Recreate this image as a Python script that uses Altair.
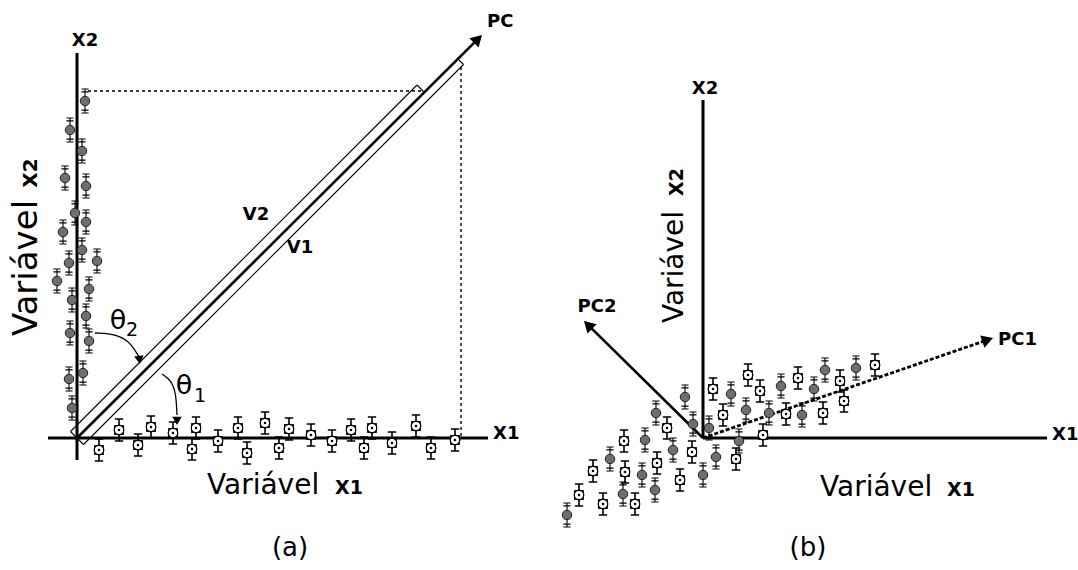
import math
import altair as alt
import pandas as pd

W, H = 1078, 570

# ---------------- data (image coordinates) ----------------
# panel (a): gray samples along x2, white samples along x1
gray_a_x = [85, 70, 82, 65, 86, 75, 86, 63, 82, 97, 69, 57, 89, 72, 86, 70, 89, 83, 69, 72]
gray_a_y = [101, 130, 151, 178, 186, 213, 222, 232, 250, 261, 263, 281, 289, 300, 316, 333, 341, 373, 379, 408]
white_a_x = [99, 119, 138, 151, 173, 192, 196, 218, 238, 247, 265, 279, 289, 311, 332, 351, 364, 372, 392, 416, 431, 455]
white_a_y = [450, 430, 445, 427, 433, 449, 428, 441, 428, 453, 423, 448, 429, 435, 441, 430, 448, 428, 443, 426, 448, 440]

# panel (b)
gray_b_x = [685, 656, 693, 709, 731, 746, 645, 673, 739, 610, 716, 642, 703, 623, 655, 567, 781, 769, 802, 814, 825, 856]
gray_b_y = [397, 413, 424, 428, 394, 410, 440, 450, 441, 459, 457, 475, 475, 494, 490, 515, 386, 413, 415, 389, 370, 368]
white_b_x = [713, 723, 667, 624, 692, 736, 593, 625, 657, 680, 579, 603, 635, 748, 760, 763, 786, 798, 823, 840, 844, 875]
white_b_y = [389, 415, 428, 441, 452, 459, 471, 472, 463, 480, 495, 504, 504, 375, 391, 435, 414, 378, 413, 381, 401, 365]

# straight segments [x1, y1, x2, y2]
axis_segs = [[77, 53, 77, 460], [48, 438, 488, 438], [703, 100, 703, 438], [703, 438, 1047, 438]]
band_segs = [[70.5, 431.5, 417, 85], [417, 85, 423.5, 91.5], [70.5, 431.5, 77, 438],
             [83.5, 444.5, 463.5, 64.5], [457, 58, 463.5, 64.5], [77, 438, 83.5, 444.5]]
guide_segs = [[88, 91, 421, 91], [461, 67, 461, 437]]

# arrows [from_x, from_y, tip_x, tip_y]
solid_arrows = [[77, 438, 482, 35], [703, 438, 584, 321]]
dashed_arrows = [[703, 438, 993, 338]]

# curved angle arrows (control points)
theta2_x = [95, 117, 131, 139]
theta2_y = [333, 334, 343, 357]
theta1_x = [162, 171, 176, 177]
theta1_y = [374, 380, 393, 415]
curve_tips = [[139, 357, 140, 364], [177, 415, 177, 425]]

# labels
bold_center = [("X2", 85, 41), ("PC2", 597, 307), ("X2", 705, 89), ("V2", 256, 215), ("V1", 300, 248)]
bold_left = [("X1", 493, 434), ("PC", 487, 22), ("PC1", 998, 340), ("X1", 1052, 435)]
theta_text = [("\u03b8", 118, 321, 27), ("2", 132, 330, 19), ("\u03b8", 184, 386, 27), ("1", 200, 396, 19)]
title_h = [("Vari\u00e1vel", 207, 494, 28), ("Vari\u00e1vel", 820, 496, 28)]
title_h_sub = [("X1", 335, 494, 19), ("X1", 947, 496, 19)]
title_v = [("Vari\u00e1vel", 37, 268, 34), ("Vari\u00e1vel", 683, 267, 28)]
title_v_sub = [("X2", 37, 173, 20), ("X2", 683, 182, 19)]
panel_tags = [("(a)", 290, 548), ("(b)", 808, 548)]

FONT = "DejaVu Sans"

# ---------------- helpers ----------------
X = alt.X("x:Q", scale=alt.Scale(domain=[0, W], nice=False, zero=False), axis=None)
Y = alt.Y("y:Q", scale=alt.Scale(domain=[0, H], nice=False, zero=False, reverse=True), axis=None)


def seg_df(segs):
    return pd.DataFrame(segs, columns=["x", "y", "x2", "y2"])


def rule_layer(segs, **kw):
    return alt.Chart(seg_df(segs)).mark_rule(color="black", **kw).encode(
        x=X, y=Y, x2=alt.X2("x2:Q"), y2=alt.Y2("y2:Q"))


def head_rows(arrows, size):
    rows = []
    r = math.sqrt(size) / 2
    h = r * math.sqrt(3) / 2
    for fx, fy, tx, ty in arrows:
        dx, dy = tx - fx, ty - fy
        L = math.hypot(dx, dy)
        ux, uy = dx / L, dy / L
        ang = math.degrees(math.atan2(dx, -dy)) % 360
        rows.append({"x": tx - ux * h, "y": ty - uy * h, "ang": ang})
    return pd.DataFrame(rows)


def shaft_segs(arrows):
    out = []
    for fx, fy, tx, ty in arrows:
        dx, dy = tx - fx, ty - fy
        L = math.hypot(dx, dy)
        out.append([fx, fy, tx - dx / L * 7, ty - dy / L * 7])
    return out


layers = []

# axes and construction lines
layers.append(rule_layer(axis_segs, strokeWidth=3))
layers.append(rule_layer(band_segs, strokeWidth=1.1))
layers.append(rule_layer(guide_segs, strokeWidth=1.4, strokeDash=[3, 3]))
layers.append(rule_layer(shaft_segs(solid_arrows), strokeWidth=2.6))
layers.append(rule_layer(shaft_segs(dashed_arrows), strokeWidth=2.8, strokeDash=[4, 2]))

# curved arrows
curve_rows = []
for cid, (cx, cy) in enumerate([(theta2_x, theta2_y), (theta1_x, theta1_y)]):
    for o, (a, b) in enumerate(zip(cx, cy)):
        curve_rows.append({"x": a, "y": b, "c": cid, "o": o})
layers.append(alt.Chart(pd.DataFrame(curve_rows)).mark_line(
    color="black", strokeWidth=1.3, interpolate="basis").encode(
    x=X, y=Y, detail="c:N", order="o:Q"))

# arrow heads
layers.append(alt.Chart(head_rows(solid_arrows + dashed_arrows, 170)).mark_point(
    shape="triangle-up", filled=True, color="black", size=170, opacity=1).encode(
    x=X, y=Y, angle=alt.Angle("ang:Q", scale=None)))
layers.append(alt.Chart(head_rows(curve_tips, 90)).mark_point(
    shape="triangle-up", filled=True, color="black", size=90, opacity=1).encode(
    x=X, y=Y, angle=alt.Angle("ang:Q", scale=None)))

# sample glyphs
gray_df = pd.DataFrame({"x": gray_a_x + gray_b_x, "y": gray_a_y + gray_b_y})
white_df = pd.DataFrame({"x": white_a_x + white_b_x, "y": white_a_y + white_b_y})

gray_bar = ("M0,-1L0,1M-0.3,-1L0.3,-1M-0.3,-0.76L0.3,-0.76"
            "M-0.3,0.76L0.3,0.76M-0.3,1L0.3,1")
white_bar = "M0,-1L0,1M-0.38,-1L0.38,-1M-0.38,1L0.38,1"

layers.append(alt.Chart(white_df).mark_point(
    shape=white_bar, filled=False, color="black", size=484, strokeWidth=1.6, opacity=1).encode(x=X, y=Y))
layers.append(alt.Chart(white_df).mark_point(
    shape="square", filled=True, color="black", size=96, opacity=1).encode(x=X, y=Y))
layers.append(alt.Chart(white_df).mark_point(
    shape="circle", filled=True, fill="white", stroke="black", strokeWidth=1.3,
    size=90, opacity=1).encode(x=X, y=Y))
layers.append(alt.Chart(white_df).mark_point(
    shape="circle", filled=True, color="black", size=6, opacity=1).encode(x=X, y=Y))

layers.append(alt.Chart(gray_df).mark_point(
    shape=gray_bar, filled=False, color="black", size=576, strokeWidth=1.1, opacity=1).encode(x=X, y=Y))
layers.append(alt.Chart(gray_df).mark_point(
    shape="circle", filled=True, fill="#6e6e6e", stroke="#1e1e1e", strokeWidth=1,
    size=90, opacity=1).encode(x=X, y=Y))


# texts
def text_df(items, cols):
    return pd.DataFrame(items, columns=cols)


layers.append(alt.Chart(text_df(bold_center, ["t", "x", "y"])).mark_text(
    font=FONT, fontWeight="bold", fontSize=18, align="center", baseline="middle", color="black").encode(
    x=X, y=Y, text="t:N"))
layers.append(alt.Chart(text_df(bold_left, ["t", "x", "y"])).mark_text(
    font=FONT, fontWeight="bold", fontSize=18, align="left", baseline="middle", color="black").encode(
    x=X, y=Y, text="t:N"))
layers.append(alt.Chart(text_df(theta_text, ["t", "x", "y", "s"])).mark_text(
    font=FONT, align="center", baseline="middle", color="black").encode(
    x=X, y=Y, text="t:N", size=alt.Size("s:Q", scale=None)))
layers.append(alt.Chart(text_df(title_h, ["t", "x", "y", "s"])).mark_text(
    font=FONT, align="left", baseline="alphabetic", color="black").encode(
    x=X, y=Y, text="t:N", size=alt.Size("s:Q", scale=None)))
layers.append(alt.Chart(text_df(title_h_sub, ["t", "x", "y", "s"])).mark_text(
    font=FONT, fontWeight="bold", align="left", baseline="alphabetic", color="black").encode(
    x=X, y=Y, text="t:N", size=alt.Size("s:Q", scale=None)))
layers.append(alt.Chart(text_df(title_v, ["t", "x", "y", "s"])).mark_text(
    font=FONT, align="center", baseline="alphabetic", angle=270, color="black").encode(
    x=X, y=Y, text="t:N", size=alt.Size("s:Q", scale=None)))
layers.append(alt.Chart(text_df(title_v_sub, ["t", "x", "y", "s"])).mark_text(
    font=FONT, fontWeight="bold", align="center", baseline="alphabetic", angle=270, color="black").encode(
    x=X, y=Y, text="t:N", size=alt.Size("s:Q", scale=None)))
layers.append(alt.Chart(text_df(panel_tags, ["t", "x", "y"])).mark_text(
    font=FONT, fontSize=26, align="center", baseline="middle", color="black").encode(
    x=X, y=Y, text="t:N"))

chart = alt.layer(*layers).properties(
    width=W, height=H, padding=0, background="white",
    autosize=alt.AutoSizeParams(type="none"),
).configure_view(stroke=None)

chart.save("out.html", embed_options={"renderer": "svg", "actions": False})
